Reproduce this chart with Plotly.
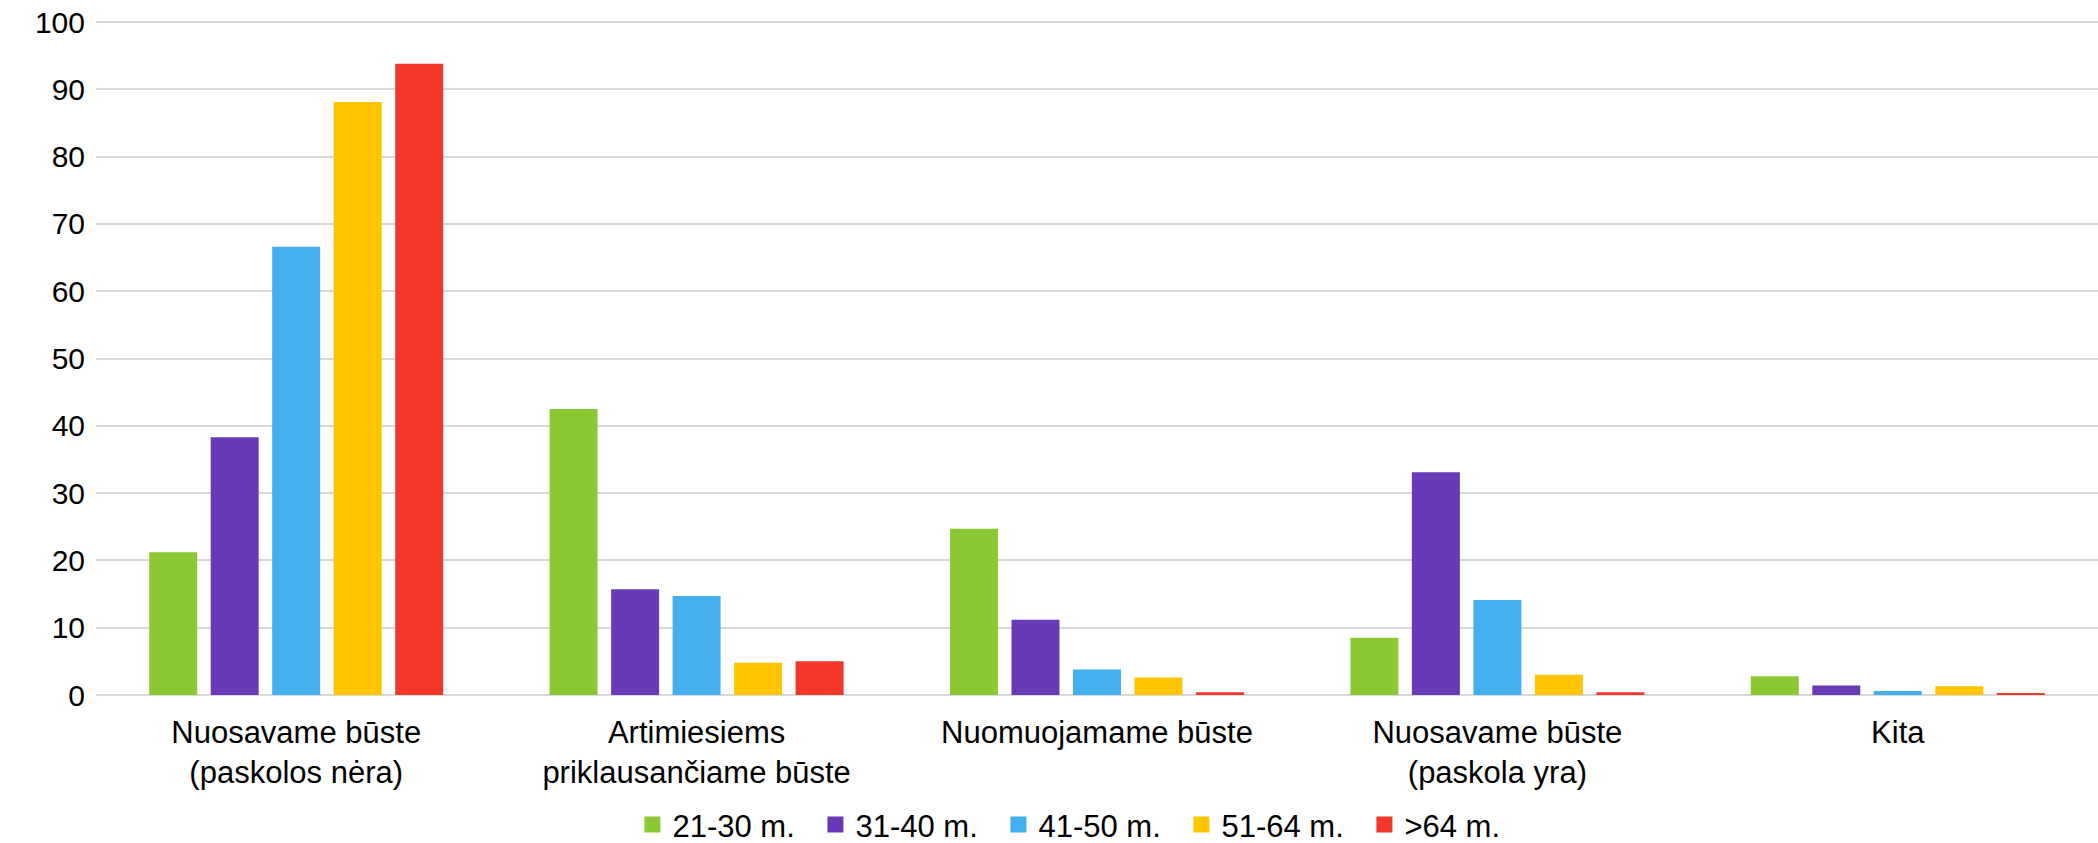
import plotly.graph_objects as go

categories = [
    "Nuosavame būste<br>(paskolos nėra)",
    "Artimiesiems<br>priklausančiame būste",
    "Nuomuojamame būste",
    "Nuosavame būste<br>(paskola yra)",
    "Kita",
]
series_names = ["21-30 m.", "31-40 m.", "41-50 m.", "51-64 m.", ">64 m."]
v_21_30 = [21.2, 42.5, 24.7, 8.5, 2.8]
v_31_40 = [38.3, 15.7, 11.2, 33.1, 1.4]
v_41_50 = [66.6, 14.7, 3.8, 14.1, 0.6]
v_51_64 = [88.1, 4.8, 2.6, 3.0, 1.3]
v_64 = [93.8, 5.0, 0.4, 0.4, 0.3]
colors = ["#8BC934", "#673AB7", "#42B0EE", "#FFC400", "#F0372A"]
y_ticks = [0, 10, 20, 30, 40, 50, 60, 70, 80, 90, 100]

values = [v_21_30, v_31_40, v_41_50, v_51_64, v_64]

fig = go.Figure()
for name, vals, col in zip(series_names, values, colors):
    fig.add_trace(go.Bar(
        x=categories, y=vals, name=name, showlegend=False, legendgroup=name,
        marker=dict(color=col, line=dict(width=0)),
    ))
# legend entries with larger square swatches
for name, col in zip(series_names, colors):
    fig.add_trace(go.Scatter(
        x=[None], y=[None], mode="markers", name=name, legendgroup=name,
        marker=dict(symbol="square", size=16, color=col),
        showlegend=True, hoverinfo="skip",
    ))

font_family = "Liberation Sans, Arial, sans-serif"
fig.update_layout(
    width=2098, height=843,
    margin=dict(l=96, r=0, t=20, b=148, autoexpand=False),
    paper_bgcolor="white", plot_bgcolor="white",
    barmode="group", bargap=0.232, bargroupgap=0.22,
    font=dict(family=font_family, size=31, color="#000000"),
    showlegend=True,
    legend=dict(
        orientation="h", xref="container", yref="container",
        x=0.5195, xanchor="center", y=0.0214, yanchor="middle",
        font=dict(family=font_family, size=31, color="#000000"),
        itemsizing="trace", traceorder="normal",
        entrywidth=138, entrywidthmode="pixels",
    ),
    xaxis=dict(
        showgrid=False, showline=False, zeroline=False, ticks="",
        tickfont=dict(family=font_family, size=31, color="#000000"),
        ticklabelstandoff=16,
    ),
    yaxis=dict(
        range=[0, 100.3], tickvals=y_ticks, showgrid=True, gridcolor="#D9D9D9",
        gridwidth=1.5, zeroline=True, zerolinecolor="#D9D9D9", zerolinewidth=1.5,
        showline=False, ticks="", ticklabeloverflow="allow",
        tickfont=dict(family=font_family, size=30, color="#000000"),
        ticklabelstandoff=10,
    ),
)

fig.write_html(
    "out.html",
    config={"displayModeBar": False},
    post_script="document.body.style.margin='0px';",
)
